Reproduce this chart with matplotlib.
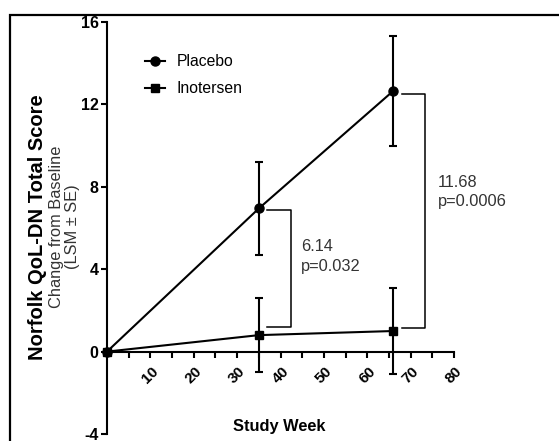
import matplotlib.pyplot as plt
from matplotlib.patches import Rectangle
from matplotlib.lines import Line2D

plt.rcParams['font.family'] = ['Liberation Sans', 'DejaVu Sans']
plt.rcParams['axes.unicode_minus'] = False

weeks = [0, 35, 66]
placebo = [0, 6.95, 12.66]
placebo_se = [0, 2.27, 2.66]
inotersen = [0, 0.8, 1.0]
inotersen_se = [0, 1.8, 2.1]

fig = plt.figure(figsize=(5.59, 4.41), dpi=100)
ax = fig.add_axes([0.1914, 0.0159, 0.6208, 0.934])

ax.errorbar(weeks, placebo, yerr=placebo_se, color='black', marker='o', ms=6.5,
            lw=1.5, elinewidth=1.5, capsize=2.7, capthick=1.5,
            clip_on=False, zorder=3)
ax.errorbar(weeks, inotersen, yerr=inotersen_se, color='black', marker='s', ms=6,
            lw=1.5, elinewidth=1.5, capsize=2.7, capthick=1.5,
            clip_on=False, zorder=3)

# brackets for the differences
ax.plot([36.8, 42.4, 42.4, 36.8], [6.86, 6.86, 1.21, 1.21], color='black', lw=1.1)
ax.plot([67.9, 73.3, 73.3, 67.9], [12.5, 12.5, 1.13, 1.13], color='black', lw=1.1)
ax.text(44.8, 4.6, '6.14\np=0.032', fontsize=11.8, va='center', ha='left',
        color='#333333', linespacing=1.4)
ax.text(76.3, 7.75, '11.68\np=0.0006', fontsize=11.8, va='center', ha='left',
        color='#333333', linespacing=1.4)

ax.set_xlim(0, 80)
ax.set_ylim(-4, 16)
ax.spines['top'].set_visible(False)
ax.spines['right'].set_visible(False)
ax.spines['bottom'].set_position(('data', 0))
ax.spines['left'].set_linewidth(1.5)
ax.spines['bottom'].set_linewidth(1.5)

ax.set_xticks([10, 20, 30, 40, 50, 60, 70, 80])
ax.set_xticks([5, 15, 25, 35, 45, 55, 65, 75], minor=True)
ax.set_yticks([-4, 0, 4, 8, 12, 16])
ax.tick_params(axis='x', which='both', direction='out', length=4, width=1.5, pad=5)
ax.tick_params(axis='y', direction='out', length=4, width=1.5, pad=2)
for lab in ax.get_xticklabels():
    lab.set_rotation(45)
    lab.set_fontsize(11)
    lab.set_fontweight('bold')
for lab in ax.get_yticklabels():
    lab.set_fontsize(11.5)
    lab.set_fontweight('bold')

handles = [Line2D([], [], color='black', lw=1.5, marker='o', ms=6.5),
           Line2D([], [], color='black', lw=1.5, marker='s', ms=6)]
ax.legend(handles, ['Placebo', 'Inotersen'], loc='upper left',
          bbox_to_anchor=(0.09, 0.937), frameon=False, fontsize=11.3,
          handlelength=1.3, handletextpad=0.75, labelspacing=0.75,
          borderaxespad=0)

fig.text(279 / 559, 1 - 427 / 441, 'Study Week', fontsize=11.8, fontweight='bold',
         ha='center', va='center')

ylab_y = 1 - 227 / 441
fig.text(38 / 559, ylab_y, 'Norfolk QoL-DN Total Score',
         fontsize=14.5, fontweight='bold', rotation=90, ha='center', va='center')
fig.text(57 / 559, ylab_y, 'Change from Baseline',
         fontsize=11.8, color='#333333', rotation=90, ha='center', va='center')
fig.text(72 / 559, ylab_y, '(LSM \u00b1 SE)',
         fontsize=11.8, color='#333333', rotation=90, ha='center', va='center')

fig.patches.append(Rectangle((10 / 559, -0.1), 1.2, 1.1 - 15 / 441,
                             transform=fig.transFigure, fill=False,
                             edgecolor='black', lw=1.6))

fig.savefig('out.png', dpi=100)
